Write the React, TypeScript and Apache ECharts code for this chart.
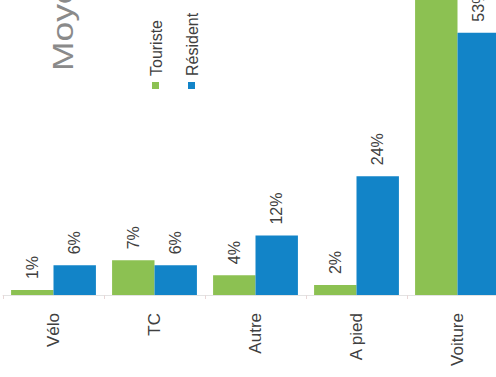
import React, { useEffect, useRef } from "react";
import * as echarts from "echarts";

const categories = ["Vélo", "TC", "Autre", "A pied", "Voiture"];
const touriste = [1, 7, 4, 2, 86];
const resident = [6, 6, 12, 24, 53];
const seriesNames = ["Touriste", "Résident"];
const titleText = "Moyens de transport";

const GREEN = "#8cc152";
const BLUE = "#1284c8";
const EXT = 200; // part of the chart that lies above the visible window
const FONT = "Liberation Sans, Arial, sans-serif";

export default function App() {
  const ref = useRef<HTMLDivElement>(null);
  useEffect(() => {
    if (!ref.current) return;
    const chart = echarts.init(ref.current, null, { renderer: "svg" });
    const label = {
      show: true,
      position: "top",
      rotate: 90,
      align: "left",
      verticalAlign: "middle",
      distance: 11,
      fontSize: 16,
      color: "#404040",
      fontFamily: FONT,
      formatter: "{c}%",
    };
    chart.setOption({
      animation: false,
      backgroundColor: "#ffffff",
      textStyle: { fontFamily: FONT },
      grid: {
        left: 3,
        right: -12,
        top: 0,
        bottom: 82,
        containLabel: false,
        outerBoundsMode: "none",
      },
      xAxis: {
        type: "category",
        data: categories,
        axisLine: { show: true, lineStyle: { color: "#e3e3e3", width: 1 } },
        axisTick: { show: true, length: 4, lineStyle: { color: "#e8d8d8" } },
        axisLabel: {
          rotate: 90,
          fontSize: 17,
          color: "#404040",
          margin: 18,
          fontFamily: FONT,
        },
      },
      yAxis: {
        type: "value",
        min: 0,
        max: 100,
        show: false,
        splitLine: { show: false },
      },
      graphic: [
        {
          type: "text",
          x: 62,
          y: EXT + 71,
          rotation: Math.PI / 2,
          scaleX: 1.18,
          style: {
            text: titleText,
            fontSize: 30,
            fontFamily: FONT,
            fill: "#8a8a8a",
            textAlign: "left",
            textVerticalAlign: "middle",
          },
        },
        {
          type: "rect",
          shape: { x: 152, y: EXT + 82, width: 7, height: 7 },
          style: { fill: GREEN },
        },
        {
          type: "text",
          x: 156,
          y: EXT + 76,
          rotation: Math.PI / 2,
          style: {
            text: seriesNames[0],
            fontSize: 16,
            fontFamily: FONT,
            fill: "#404040",
            textAlign: "left",
            textVerticalAlign: "middle",
          },
        },
        {
          type: "rect",
          shape: { x: 188, y: EXT + 82, width: 7, height: 7 },
          style: { fill: BLUE },
        },
        {
          type: "text",
          x: 192,
          y: EXT + 76,
          rotation: Math.PI / 2,
          style: {
            text: seriesNames[1],
            fontSize: 16,
            fontFamily: FONT,
            fill: "#404040",
            textAlign: "left",
            textVerticalAlign: "middle",
          },
        },
      ],
      series: [
        {
          name: seriesNames[0],
          type: "bar",
          data: touriste,
          barGap: "0%",
          barCategoryGap: "16%",
          itemStyle: { color: GREEN },
          label,
        },
        {
          name: seriesNames[1],
          type: "bar",
          data: resident,
          barGap: "0%",
          barCategoryGap: "16%",
          itemStyle: { color: BLUE },
          label,
        },
      ],
    });
    return () => chart.dispose();
  }, []);
  return (
    <div
      ref={ref}
      style={{
        position: "absolute",
        left: 0,
        top: -EXT,
        width: 496,
        height: 377 + EXT,
      }}
    />
  );
}
